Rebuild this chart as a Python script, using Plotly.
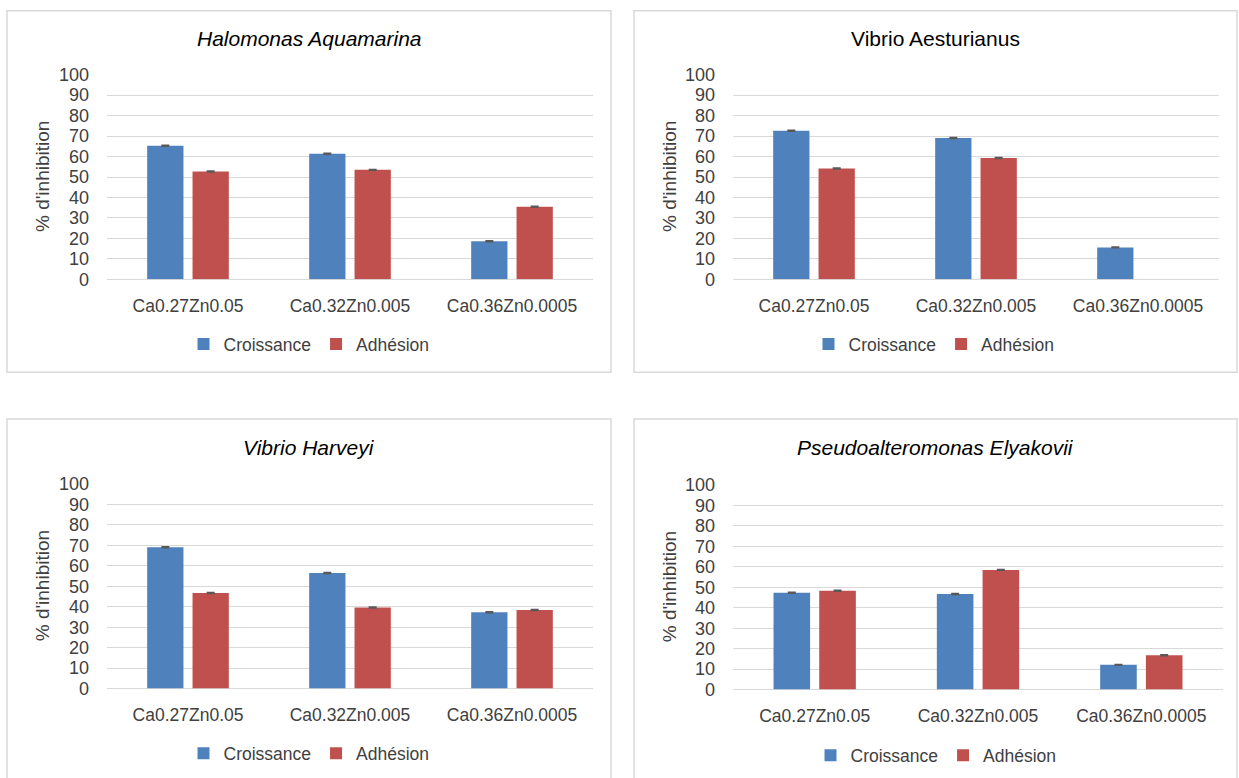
import plotly.graph_objects as go

# four bacteria panels, two series each
categories = ["Ca0.27Zn0.05", "Ca0.32Zn0.005", "Ca0.36Zn0.0005"]
series_names = ["Croissance", "Adhésion"]
y_ticks = [0, 10, 20, 30, 40, 50, 60, 70, 80, 90, 100]

halomonas_croissance = [65.3, 61.4, 18.6]
halomonas_adhesion = [52.7, 53.5, 35.5]
aesturianus_croissance = [72.6, 69.1, 15.6]
aesturianus_adhesion = [54.2, 59.3, None]
harveyi_croissance = [69.1, 56.5, 37.3]
harveyi_adhesion = [46.7, 39.6, 38.4]
elyakovii_croissance = [47.3, 46.7, 12.1]
elyakovii_adhesion = [48.3, 58.5, 16.8]
error_size = [0.3, 0.3, 0.3]

titles = ["Halomonas Aquamarina", "Vibrio Aesturianus",
          "Vibrio Harveyi", "Pseudoalteromonas Elyakovii"]
italic = [True, False, True, True]

W, H = 1239, 778
BLUE, RED = "#4F81BD", "#C0504D"
GRID = "#D9D9D9"
FONT = "Liberation Sans"
TXT = "#404040"

# the captured page comes out slightly squeezed vertically; map target pixels back
Y_SCALE, Y_SHIFT = 0.976, 8.2


def px(x):
    return x / W


def py(y):
    return 1 - ((y - Y_SHIFT) / Y_SCALE) / H


# pixel geometry of each panel: box (x0, y0, x1, y1), plot area (x0, x1, y_top, y_bottom)
panels = [
    dict(box=(7, 9, 611, 371), plot=(107, 593, 73, 278), legend=(309, 343)),
    dict(box=(634, 9, 1237, 371), plot=(733, 1219, 73, 278), legend=(934, 343)),
    dict(box=(7, 418, 611, 800), plot=(107, 593, 483, 688), legend=(309, 753)),
    dict(box=(634, 418, 1237, 800), plot=(733, 1223, 484, 689), legend=(936, 755)),
]

data_sets = [
    (halomonas_croissance, halomonas_adhesion),
    (aesturianus_croissance, aesturianus_adhesion),
    (harveyi_croissance, harveyi_adhesion),
    (elyakovii_croissance, elyakovii_adhesion),
]

fig = go.Figure()
layout = dict(
    width=W, height=H,
    margin=dict(l=0, r=0, t=0, b=0),
    paper_bgcolor="white", plot_bgcolor="white",
    barmode="group", bargap=0.44, bargroupgap=0.2,
    font=dict(family=FONT, size=17, color=TXT),
    shapes=[], annotations=[],
)

for i, (p, (cro, adh)) in enumerate(zip(panels, data_sets)):
    n = "" if i == 0 else str(i + 1)
    leg = "legend" + n
    for name, vals, color in [(series_names[0], cro, BLUE), (series_names[1], adh, RED)]:
        fig.add_trace(go.Bar(
            x=categories, y=vals, name=name,
            marker=dict(color=color, line=dict(width=0)),
            error_y=dict(type="data", array=error_size, color="#595959",
                         thickness=1.2, width=4),
            xaxis="x" + n, yaxis="y" + n, legend=leg,
        ))

    x0, x1, yt, yb = p["plot"]
    layout["xaxis" + n] = dict(
        domain=[px(x0), px(x1)], anchor="y" + n,
        showgrid=False, showline=False, zeroline=False, ticks="",
        ticklabelstandoff=14,
        tickfont=dict(family=FONT, size=17.5, color=TXT),
    )
    layout["yaxis" + n] = dict(
        domain=[py(yb), py(yt)], anchor="x" + n,
        range=[0, 100], tickvals=y_ticks,
        showgrid=True, gridcolor=GRID, gridwidth=1.3,
        zeroline=True, zerolinecolor=GRID, zerolinewidth=1.3,
        showline=False, ticks="", ticklabelstandoff=17,
        tickfont=dict(family=FONT, size=18, color=TXT),
    )

    bx0, by0, bx1, by1 = p["box"]
    layout["shapes"].append(dict(
        type="rect", xref="paper", yref="paper",
        x0=px(bx0), x1=px(bx1), y0=py(by1), y1=py(by0),
        line=dict(color=GRID, width=1.5), fillcolor="rgba(0,0,0,0)", layer="below",
    ))

    # panel title
    t = titles[i]
    layout["annotations"].append(dict(
        text=f"<i>{t}</i>" if italic[i] else t,
        xref="paper", yref="paper", x=px((bx0 + bx1) / 2), y=py(by0 + 28),
        xanchor="center", yanchor="middle", showarrow=False,
        font=dict(family=FONT, size=21, color="#000000"),
    ))
    # y axis title
    layout["annotations"].append(dict(
        text="% d'inhibition", textangle=-90,
        xref="paper", yref="paper", x=px(bx0 + 35), y=py((yt + yb) / 2),
        xanchor="center", yanchor="middle", showarrow=False,
        font=dict(family=FONT, size=19, color=TXT),
    ))

    lx, ly = p["legend"]
    layout[leg] = dict(
        orientation="h", xref="paper", yref="paper",
        x=px(lx), y=py(ly),
        xanchor="center", yanchor="middle",
        font=dict(family=FONT, size=17.5, color=TXT),
        itemwidth=30, bgcolor="rgba(0,0,0,0)",
    )

fig.update_layout(**layout)

# pin the graph div to the window origin, no page margins
page_fix = (
    "document.body.style.margin='0';document.body.style.padding='0';"
    "document.documentElement.style.overflow='hidden';"
    "var gd=document.querySelector('.plotly-graph-div');"
    "gd.style.position='fixed';gd.style.top='0';gd.style.left='0';"
)
fig.write_html("out.html", post_script=page_fix, config={"displayModeBar": False})
